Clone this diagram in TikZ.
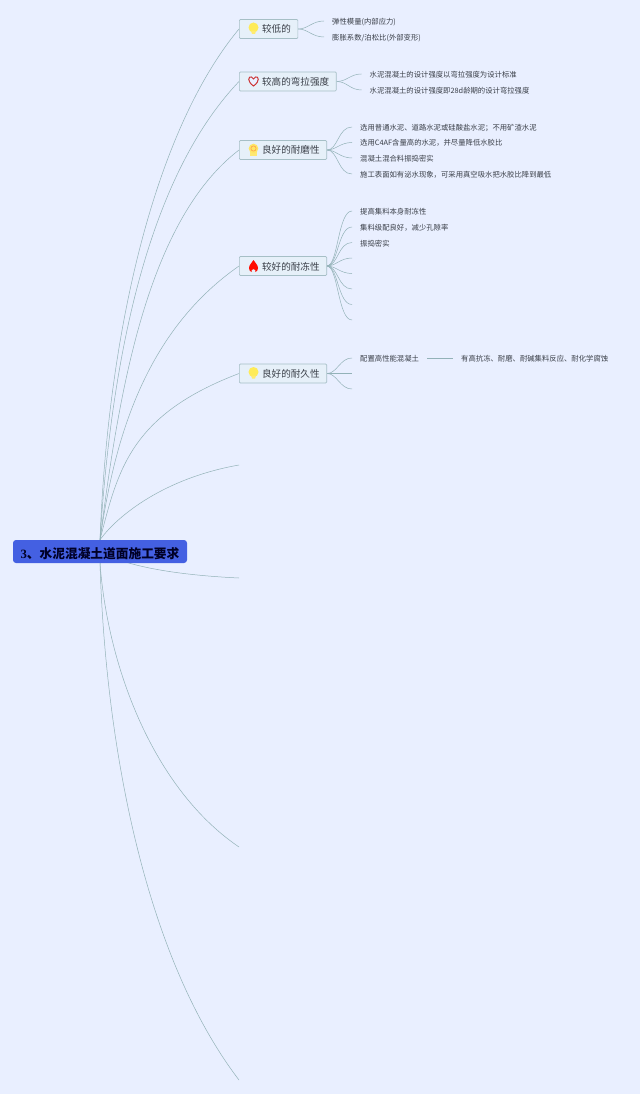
\documentclass[tikz,border=0pt]{standalone}
\usepackage{fontspec}
\setmainfont{Noto Sans CJK SC}
\newfontfamily\latinserif{Liberation Serif}
\usetikzlibrary{backgrounds}
\definecolor{bgc}{HTML}{E9EFFF}
\definecolor{linec}{HTML}{93B2B8}
\definecolor{boxc}{HTML}{E6F0F9}
\definecolor{boxl}{HTML}{A6BFC6}
\definecolor{rootc}{HTML}{4460E2}
\definecolor{txtc}{HTML}{3A3F48}
\tikzset{
  x=1pt,y=-1pt,
  rootnode/.style={fill=rootc,rounded corners=3pt,minimum width=174pt,minimum height=23pt,inner sep=0pt,text height=13pt,text depth=0pt,text=black!85!blue,font=\fontsize{12.7pt}{14pt}\selectfont\bfseries},
  branch/.style={draw=boxl,fill=boxc,line width=.7pt,rounded corners=1pt,anchor=west,minimum height=19pt,inner sep=0pt,text height=8pt,text depth=0pt,text=txtc,font=\fontsize{9.6pt}{11pt}\selectfont,execute at begin node=\hspace*{22.7pt},execute at end node=\hspace*{7pt}},
  leaf/.style={anchor=west,inner ysep=1pt,inner xsep=8pt,text height=7pt,text depth=0pt,text=txtc,font=\fontsize{7.35pt}{9pt}\selectfont},
  conn/.style={draw=linec,line width=.5pt},
  bulb/.pic={\fill[yellow!85!orange!65!white] (0,-1.5) circle (5);\fill[yellow!80!orange!55!white] (-2.5,2) -- (2.5,2) -- (1.5,5) -- (-1.5,5) -- cycle;},
  heart/.pic={\draw[red!75!black!80,line width=1pt,fill=bgc] (0,4.5) .. controls (-7,-.5) and (-5,-5.5) .. (-2,-4.5) .. controls (-1,-4.2) and (-.3,-3.5) .. (0,-2.5) .. controls (.3,-3.5) and (1,-4.2) .. (2,-4.5) .. controls (5,-5.5) and (7,-.5) .. (0,4.5) -- cycle;},
  medal/.pic={\fill[yellow!75!orange!55!white] (-3.5,1) rectangle (3.5,6);\fill[yellow!75!orange!60!white] (0,-1.5) circle (4.8);\draw[orange!70!white,line width=.7pt] (0,-1.5) circle (2.6);},
  fire/.pic={\fill[red!90!orange] (0,-6) .. controls (1,-3.5) and (4.5,-1.5) .. (4.5,2) .. controls (4.5,4) and (3.5,5.5) .. (2,6) .. controls (2.6,4.5) and (1.5,3.5) .. (0,3) .. controls (-1.5,3.5) and (-2.6,4.5) .. (-2,6) .. controls (-3.5,5.5) and (-4.5,4) .. (-4.5,2) .. controls (-4.5,-1.5) and (-1,-3.5) .. (0,-6) -- cycle;}
}
\begin{document}
\begin{tikzpicture}
\useasboundingbox (0,0) rectangle (640,1094);
% root
\node[rootnode] (root) at (100,551.5) {{\latinserif\bfseries 3}、水泥混凝土道面施工要求};
% branches
\node[branch] (b1) at (239,29) {较低的};
\node[branch] (b2) at (239,81.5) {较高的弯拉强度};
\node[branch] (b3) at (239,150) {良好的耐磨性};
\node[branch] (b4) at (239,266) {较好的耐冻性};
\node[branch] (b5) at (239,373.5) {良好的耐久性};
\pic at (253.5,29) {bulb};
\pic at (253.5,81.5) {heart};
\pic at (253.5,150) {medal};
\pic at (253.5,266) {fire};
\pic at (253.5,373.5) {bulb};
% leaves
\node[leaf] (a1) at (324,21) {弹性模量(内部应力)};
\node[leaf] (a2) at (324,37) {膨胀系数/泊松比(外部变形)};
\node[leaf] (c1) at (361.5,74) {水泥混凝土的设计强度以弯拉强度为设计标准};
\node[leaf] (c2) at (361.5,90) {水泥混凝土的设计强度即28d龄期的设计弯拉强度};
\node[leaf] (d1) at (352,127) {选用普通水泥、道路水泥或硅酸盐水泥；不用矿渣水泥};
\node[leaf] (d2) at (352,142.5) {选用C4AF含量高的水泥，并尽量降低水胶比};
\node[leaf] (d3) at (352,158) {混凝土混合料振捣密实};
\node[leaf] (d4) at (352,174) {施工表面如有泌水现象，可采用真空吸水把水胶比降到最低};
\node[leaf] (e1) at (352,211) {提高集料本身耐冻性};
\node[leaf] (e2) at (352,227) {集料级配良好，减少孔隙率};
\node[leaf] (e3) at (352,242.5) {振捣密实};
\coordinate (e4) at (352,258);
\coordinate (e5) at (352,273.5);
\coordinate (e6) at (352,289);
\coordinate (e7) at (352,304.5);
\coordinate (e8) at (352,320);
\node[leaf] (f1) at (352,358) {配置高性能混凝土};
\node[leaf] (f1b) at (453,358) {有高抗冻、耐磨、耐碱集料反应、耐化学腐蚀};
\coordinate (f2) at (352,373.5);
\coordinate (f3) at (352,389);
% free ends of the main branches
\coordinate (r6) at (239,465);
\coordinate (r7) at (239,578);
\coordinate (r8) at (239,847);
\coordinate (r9) at (239,1080);
\begin{scope}[on background layer]
\fill[bgc] (0,0) rectangle (640,1094);
\draw[conn] (root.north) .. controls (108,330) and (155,130) .. (b1.west);
\draw[conn] (root.north) .. controls (112,350) and (150,175) .. (b2.west);
\draw[conn] (root.north) .. controls (118,400) and (145,222) .. (b3.west);
\draw[conn] (root.north) .. controls (113,450) and (140,335) .. (b4.west);
\draw[conn] (root.north) .. controls (118,470) and (130,415) .. (b5.west);
\draw[conn] (root.north) .. controls (118,515) and (165,478) .. (r6);
\draw[conn] (root.center) .. controls (125,566) and (175,575) .. (r7);
\draw[conn] (root.south) .. controls (108,670) and (155,790) .. (r8);
\draw[conn] (root.south) .. controls (105,730) and (140,950) .. (r9);
\draw[conn] (b1.east) .. controls (308,29) and (312,21) .. (a1.west);
\draw[conn] (b1.east) .. controls (308,29) and (312,37) .. (a2.west);
\draw[conn] (b2.east) .. controls (347,81.5) and (350,74) .. (c1.west);
\draw[conn] (b2.east) .. controls (347,81.5) and (350,90) .. (c2.west);
\draw[conn] (b3.east) .. controls (338,150) and (338,127) .. (d1.west);
\draw[conn] (b3.east) .. controls (336,150) and (340,142.5) .. (d2.west);
\draw[conn] (b3.east) .. controls (336,150) and (340,158) .. (d3.west);
\draw[conn] (b3.east) .. controls (338,150) and (338,174) .. (d4.west);
\draw[conn] (b4.east) .. controls (338,266) and (338,211) .. (e1.west);
\draw[conn] (b4.east) .. controls (338,266) and (338,227) .. (e2.west);
\draw[conn] (b4.east) .. controls (338,266) and (338,242.5) .. (e3.west);
\draw[conn] (b4.east) .. controls (336,266) and (340,258) .. (e4);
\draw[conn] (b4.east) .. controls (336,266) and (340,273.5) .. (e5);
\draw[conn] (b4.east) .. controls (338,266) and (338,289) .. (e6);
\draw[conn] (b4.east) .. controls (338,266) and (338,304.5) .. (e7);
\draw[conn] (b4.east) .. controls (338,266) and (338,320) .. (e8);
\draw[conn] (b5.east) .. controls (337,373.5) and (340,358) .. (f1.west);
\draw[conn] (b5.east) -- (f2);
\draw[conn] (b5.east) .. controls (337,373.5) and (340,389) .. (f3);
\draw[conn] (f1.east) -- (f1b.west);
\end{scope}
\end{tikzpicture}
\end{document}
